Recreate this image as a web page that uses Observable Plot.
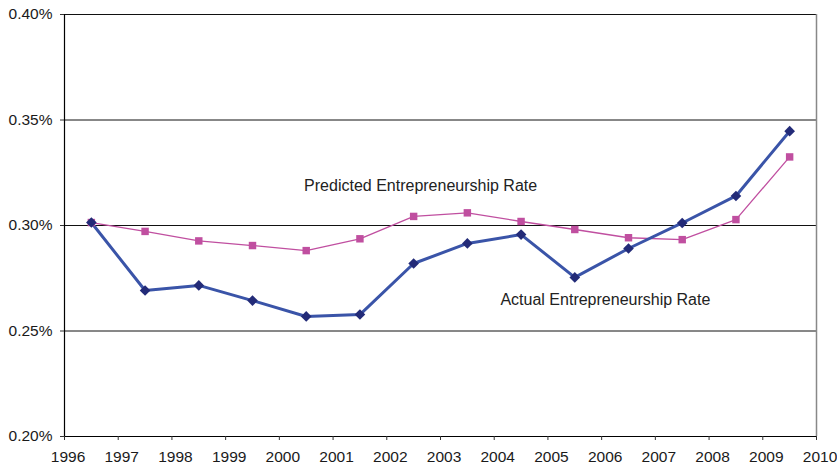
<!DOCTYPE html>
<html>
<head>
<meta charset="utf-8">
<script src="https://cdn.jsdelivr.net/npm/d3@7"></script>
<script src="https://cdn.jsdelivr.net/npm/@observablehq/plot@0.6"></script>
<style>
  html, body { margin: 0; padding: 0; background: #fff; }
  #chart svg { display: block; font-family: "Liberation Sans", Arial, Helvetica, sans-serif; }
</style>
</head>
<body>
<div id="chart"></div>
<script>
// Data (rates in percent), observations centred mid-year
const years = [1996.5, 1997.5, 1998.5, 1999.5, 2000.5, 2001.5, 2002.5, 2003.5, 2004.5, 2005.5, 2006.5, 2007.5, 2008.5, 2009.5];
const actualRate = [0.3014, 0.2692, 0.2716, 0.2644, 0.2569, 0.2578, 0.2820, 0.2915, 0.2957, 0.2754, 0.2891, 0.3012, 0.3140, 0.3447];
const predictedRate = [0.3014, 0.2972, 0.2927, 0.2905, 0.2881, 0.2937, 0.3043, 0.3060, 0.3019, 0.2981, 0.2942, 0.2933, 0.3028, 0.3325];
const xTicks = [1996, 1997, 1998, 1999, 2000, 2001, 2002, 2003, 2004, 2005, 2006, 2007, 2008, 2009, 2010];
const yTicks = [0.20, 0.25, 0.30, 0.35, 0.40];
const gridValues = [0.25, 0.30, 0.35, 0.40];
const labels = [
  {text: "Predicted Entrepreneurship Rate", x: 2002.63, y: 0.3190},
  {text: "Actual Entrepreneurship Rate", x: 2006.07, y: 0.2649}
];

const actual = years.map((x, i) => ({x, y: actualRate[i]}));
const predicted = years.map((x, i) => ({x, y: predictedRate[i]}));

const chart = Plot.plot({
  width: 837,
  height: 469,
  marginLeft: 64,
  marginRight: 21,
  marginTop: 14,
  marginBottom: 33,
  style: {fontSize: "15.5px", color: "#1a1a1a", background: "#fff"},
  x: {domain: [1996, 2010]},
  y: {domain: [0.20, 0.40]},
  marks: [
    Plot.ruleY(gridValues, {stroke: "#111", strokeWidth: 1}),
    Plot.ruleX([2010], {stroke: "#888", strokeWidth: 1.5}),
    Plot.ruleX([1996], {stroke: "#000", strokeWidth: 1.2}),
    Plot.ruleY([0.20], {stroke: "#000", strokeWidth: 1.2}),
    Plot.axisX({ticks: xTicks, tickFormat: () => "", tickSize: 4, label: null, stroke: "#333"}),
    Plot.axisX({ticks: xTicks, tickFormat: d => String(d), tickSize: 0, tickPadding: 14, label: null, fontSize: 15.5, dx: 3.5}),
    Plot.axisY({ticks: yTicks, tickFormat: d => d.toFixed(2) + "%", tickSize: 4, tickPadding: 8, label: null, fontSize: 15.5, stroke: "#333"}),
    Plot.line(predicted, {x: "x", y: "y", stroke: "#c04fa0", strokeWidth: 1.3}),
    Plot.line(actual, {x: "x", y: "y", stroke: "#3a54a8", strokeWidth: 3}),
    Plot.dot(predicted, {x: "x", y: "y", symbol: "square", r: 4.2, fill: "#c04fa0", stroke: "none"}),
    Plot.dot(actual, {x: "x", y: "y", symbol: "diamond2", r: 4.8, fill: "#232b78", stroke: "none"}),
    Plot.text(labels, {x: "x", y: "y", text: "text", fontSize: 16, fill: "#222"})
  ]
});
document.getElementById("chart").appendChild(chart);
</script>
</body>
</html>
